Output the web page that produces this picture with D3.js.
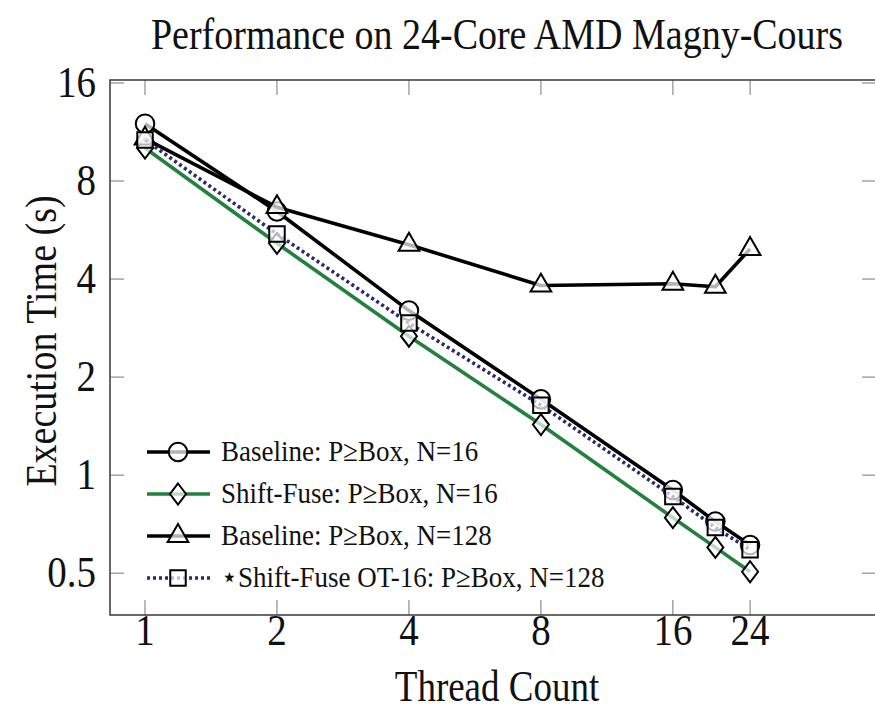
<!DOCTYPE html>
<html><head><meta charset="utf-8">
<script src="https://cdn.jsdelivr.net/npm/d3@7"></script>
<style>body{margin:0;background:#fff}svg{display:block}text{font-family:"Liberation Serif","Times New Roman",serif;fill:#111}</style>
</head><body>
<svg id="chart" width="875" height="712"></svg>
<script>
const threads = [1, 2, 4, 8, 16, 20, 24];
const baseline16 = [12.0, 6.45, 3.2, 1.71, 0.90, 0.72, 0.61];
const shiftFuse16 = [10.1, 5.15, 2.67, 1.43, 0.74, 0.60, 0.505];
const baseline128 = [10.8, 6.65, 5.1, 3.82, 3.87, 3.79, 4.95];
const shiftFuseOT16 = [10.7, 5.5, 2.93, 1.64, 0.86, 0.69, 0.59];
const xTicks = [1, 2, 4, 8, 16, 24];
const yTicks = [0.5, 1, 2, 4, 8, 16];
const seriesNames = ["Baseline: P\u2265Box, N=16", "Shift-Fuse: P\u2265Box, N=16", "Baseline: P\u2265Box, N=128", "\u22c6Shift-Fuse OT-16: P\u2265Box, N=128"];
const title = "Performance on 24-Core AMD Magny-Cours";

const series = [
  {name: seriesNames[0], values: baseline16, color: "#000", dash: null, marker: "circle"},
  {name: seriesNames[1], values: shiftFuse16, color: "#23803f", dash: null, marker: "diamond"},
  {name: seriesNames[2], values: baseline128, color: "#000", dash: null, marker: "triangle"},
  {name: seriesNames[3], values: shiftFuseOT16, color: "#2a2a6e", dash: "3,3", marker: "square"}
];

const svg = d3.select("#chart");
const L = 110, R = 876, T = 80, B = 615;
const x = d3.scaleLog().base(2).domain([0.832, 46.5]).range([L, R]);
const y = d3.scaleLog().base(2).domain([0.372, 16.34]).range([B, T]);

function label(g, tx, ty, str, size, anchor, k, rot) {
  return g.append("text")
    .attr("transform", `translate(${tx},${ty})` + (rot ? ` rotate(${rot})` : "") + ` scale(1,${k})`)
    .attr("text-anchor", anchor).style("font-size", size + "px").text(str);
}

label(svg, 497, 49, title, 38, "middle", 1.18);

// ticks (inner, both sides)
const tk = svg.append("g").attr("stroke", "#777").attr("stroke-width", 1);
xTicks.forEach(v => {
  tk.append("line").attr("x1", x(v)).attr("x2", x(v)).attr("y1", B).attr("y2", B - 15);
  tk.append("line").attr("x1", x(v)).attr("x2", x(v)).attr("y1", T).attr("y2", T + 15);
});
yTicks.forEach(v => {
  tk.append("line").attr("x1", L).attr("x2", L + 14).attr("y1", y(v)).attr("y2", y(v));
  tk.append("line").attr("x1", R).attr("x2", R - 14).attr("y1", y(v)).attr("y2", y(v));
});
svg.append("rect").attr("x", L).attr("y", T).attr("width", R - L).attr("height", B - T)
  .attr("fill", "none").attr("stroke", "#444").attr("stroke-width", 1.6);

// tick labels
const tl = svg.append("g");
xTicks.forEach(v => label(tl, x(v), 645, v, 39, "middle", 1.15));
yTicks.forEach(v => label(tl, 96, y(v) + 14, v, 39, "end", 1.15));

label(svg, 497, 701, "Thread Count", 37, "middle", 1.18);
label(svg, 56, 341, "Execution Time (s)", 38, "middle", 1.18, -90);

function markerPath(type) {
  if (type === "diamond") return "M0,-10.5L8,0L0,10.5L-8,0Z";
  const size = {circle: 270, triangle: 185, square: 240}[type];
  const sym = {circle: d3.symbolCircle, triangle: d3.symbolTriangle, square: d3.symbolSquare}[type];
  return d3.symbol().type(sym).size(size)();
}
function drawMarker(g, type, cx, cy) {
  g.append("path").attr("d", markerPath(type))
    .attr("transform", `translate(${cx},${cy})`)
    .attr("fill", "#fff").attr("fill-opacity", 0.7)
    .attr("stroke", "#000").attr("stroke-width", 2);
}

const line = d3.line().x((d, i) => x(threads[i])).y(d => y(d));
series.forEach(s => {
  const g = svg.append("g");
  g.append("path").attr("d", line(s.values)).attr("fill", "none")
    .attr("stroke", s.color).attr("stroke-width", 3.6)
    .attr("stroke-dasharray", s.dash).attr("stroke-linejoin", "round");
  s.values.forEach((v, i) => drawMarker(g, s.marker, x(threads[i]), y(v)));
});

// legend
const lg = svg.append("g");
series.forEach((s, i) => {
  const ly = 452 + i * 42;
  lg.append("line").attr("x1", 147).attr("x2", 210).attr("y1", ly).attr("y2", ly)
    .attr("stroke", s.color).attr("stroke-width", 3.6).attr("stroke-dasharray", s.dash);
  drawMarker(lg, s.marker, 178, ly);
  label(lg, 221, ly + 9, s.name, 27, "start", 1.12);
});
</script>
</body></html>
